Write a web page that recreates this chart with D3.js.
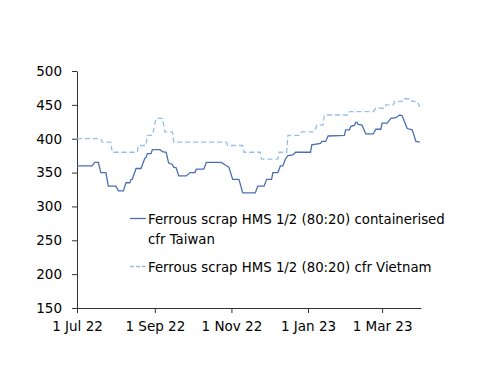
<!DOCTYPE html>
<html><head><meta charset="utf-8">
<script src="https://cdn.jsdelivr.net/npm/d3@7"></script>
<style>
body{margin:0;background:#fff;}
svg{display:block;}
text{font-family:"DejaVu Sans",sans-serif;fill:#000;}
</style></head>
<body><svg id="c" width="500" height="386"></svg>
<script>
const seriesNames = ["Ferrous scrap HMS 1/2 (80:20) containerised cfr Taiwan", "Ferrous scrap HMS 1/2 (80:20) cfr Vietnam"];
const taiwanDates = ["2022-07-01","2022-07-13","2022-07-15","2022-07-18","2022-07-20","2022-07-24","2022-07-26","2022-08-01","2022-08-03","2022-08-07","2022-08-09","2022-08-12","2022-08-13","2022-08-14","2022-08-17","2022-08-21","2022-08-24","2022-08-25","2022-08-26","2022-08-29","2022-08-30","2022-09-05","2022-09-07","2022-09-10","2022-09-12","2022-09-15","2022-09-16","2022-09-18","2022-09-20","2022-09-26","2022-09-29","2022-10-03","2022-10-04","2022-10-10","2022-10-12","2022-10-24","2022-10-28","2022-10-30","2022-11-02","2022-11-07","2022-11-10","2022-11-20","2022-11-22","2022-11-27","2022-11-29","2022-12-03","2022-12-04","2022-12-08","2022-12-10","2022-12-12","2022-12-14","2022-12-16","2022-12-20","2022-12-22","2023-01-03","2023-01-04","2023-01-11","2023-01-12","2023-01-15","2023-01-17","2023-01-30","2023-01-31","2023-02-03","2023-02-04","2023-02-07","2023-02-08","2023-02-09","2023-02-10","2023-02-13","2023-02-16","2023-02-22","2023-02-24","2023-02-28","2023-03-01","2023-03-05","2023-03-08","2023-03-12","2023-03-15","2023-03-17","2023-03-21","2023-03-25","2023-03-28","2023-03-31"];
const taiwanValues = [360,360,365,365,350,350,330,330,323,323,335,335,340,340,356,356,371,372,378,378,384,384,381,380,364,362,358,357,345,345,350,350,355,355,365,365,360,358,340,340,320,320,330,330,340,340,350,350,360,360,370,375,376,380,380,391,393,396,396,404,405,413,413,418,420,424,424,421,420,407,407,414,414,423,423,430,431,435,434,415,413,396,395];
const vietnamDates = ["2022-07-01","2022-07-20","2022-07-21","2022-07-28","2022-07-29","2022-08-18","2022-08-19","2022-08-25","2022-08-26","2022-08-30","2022-09-02","2022-09-07","2022-09-09","2022-09-15","2022-09-16","2022-10-28","2022-10-29","2022-11-10","2022-11-11","2022-11-24","2022-11-25","2022-12-08","2022-12-09","2022-12-15","2022-12-16","2022-12-25","2022-12-27","2023-01-06","2023-01-08","2023-01-13","2023-01-14","2023-02-02","2023-02-03","2023-02-22","2023-02-24","2023-03-03","2023-03-04","2023-03-10","2023-03-11","2023-03-17","2023-03-18","2023-03-24","2023-03-25","2023-03-29","2023-03-31"];
const vietnamValues = [400,400,395,395,380,380,390,390,405,405,430,430,410,410,395,395,390,390,380,380,370,370,380,380,405,405,410,410,420,420,435,435,440,440,445,445,450,450,455,455,459,459,455,455,447];
const yTicks = [150,200,250,300,350,400,450,500];
const xTickDates = ["2022-07-01","2022-09-01","2022-11-01","2023-01-01","2023-03-01"];
const xTickLabels = ["1 Jul 22","1 Sep 22","1 Nov 22","1 Jan 23","1 Mar 23"];

const parse = d3.utcParse("%Y-%m-%d");
const svg = d3.select("#c");
const x = d3.scaleUtc().domain([parse("2022-07-01"), parse("2023-04-01")]).range([77, 421]);
const y = d3.scaleLinear().domain([150, 500]).range([308, 71]);

const yAxis = d3.axisLeft(y).tickValues(yTicks).tickSize(5).tickSizeOuter(0).tickPadding(10).tickFormat(d3.format("d"));
const gy = svg.append("g").attr("transform","translate(77,0)").call(yAxis);
const xAxis = d3.axisBottom(x).tickValues(xTickDates.map(parse)).tickSize(5).tickSizeOuter(0).tickPadding(8)
  .tickFormat((d,i)=>xTickLabels[i]);
const gx = svg.append("g").attr("transform","translate(0,308)").call(xAxis);
[gx, gy].forEach(g=>{
  g.selectAll("text").attr("font-size",13.5).attr("font-family",null);
  g.selectAll("path,line").attr("stroke","#333").attr("stroke-width",1);
  g.attr("font-family",null).attr("font-size",null);
});

const line = d3.line().x(d=>x(d[0])).y(d=>y(d[1]));
const tw = taiwanDates.map((d,i)=>[parse(d), taiwanValues[i]]);
const vn = vietnamDates.map((d,i)=>[parse(d), vietnamValues[i]]);
const colTw = "#4a6fb5", colVn = "#93bfea";
svg.append("path").datum(vn).attr("d", line).attr("fill","none").attr("stroke",colVn).attr("stroke-width",1.3).attr("stroke-dasharray","5,3");
svg.append("path").datum(tw).attr("d", line).attr("fill","none").attr("stroke",colTw).attr("stroke-width",1.3);

// legend
const lg = svg.append("g");
lg.append("line").attr("x1",130).attr("x2",146).attr("y1",218.5).attr("y2",218.5).attr("stroke",colTw).attr("stroke-width",1.3);
const t1 = lg.append("text").attr("x",148).attr("y",223.5).attr("font-size",13.3);
t1.append("tspan").attr("x",148).text("Ferrous scrap HMS 1/2 (80:20) containerised");
t1.append("tspan").attr("x",148).attr("dy",20.5).text("cfr Taiwan");
lg.append("line").attr("x1",130).attr("x2",146).attr("y1",266.5).attr("y2",266.5).attr("stroke",colVn).attr("stroke-width",1.3).attr("stroke-dasharray","4,2");
lg.append("text").attr("x",148).attr("y",271.5).attr("font-size",13.3).text(seriesNames[1]);
</script></body></html>
